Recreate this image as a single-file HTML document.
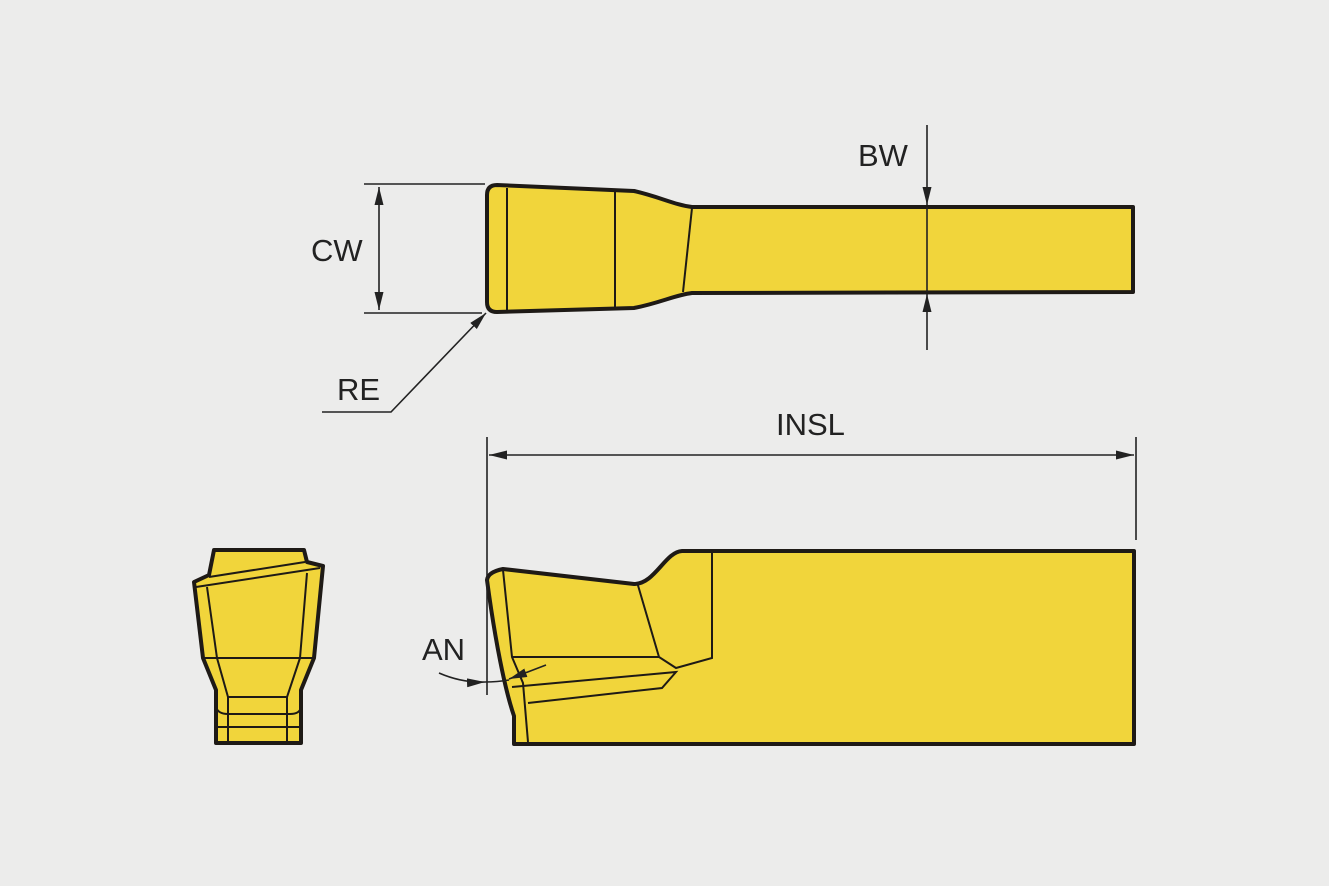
<!DOCTYPE html>
<html><head><meta charset="utf-8"><style>
html,body{margin:0;padding:0;background:#ececeb;}
svg{display:block}
text{font-family:"Liberation Sans",sans-serif;font-size:31px;fill:#222;}
</style></head><body>
<svg width="1329" height="886" viewBox="0 0 1329 886" xmlns="http://www.w3.org/2000/svg">
<defs>
<marker id="a" viewBox="0 0 10 10" refX="10" refY="5" markerWidth="18" markerHeight="9" markerUnits="userSpaceOnUse" orient="auto-start-reverse" preserveAspectRatio="none"><path d="M0,0L10,5L0,10z" fill="#222"/></marker>
</defs>
<rect width="1329" height="886" fill="#ececeb"/>
<g fill="#f1d53b" stroke="#1e1a16" stroke-width="4" stroke-linejoin="round">
<path d="M497,185 L634,191 C660,197 675,205 692,207 L1133,207 L1133,292 L692,293 C675,295 660,303 634,308 L497,312 Q487,312 487,302 L487,195 Q487,185 497,185 Z"/>
<path d="M503,569 L634,584 C655,584 665,552 682,551 L1134,551 L1134,744 L514,744 L514,716 C505,690 495,640 487,580 Q488,572 503,569 Z"/>
<path d="M214,550 L304,550 L307,562 L323,566 L314,658 L301,690 L301,743 L216,743 L216,690 L203,658 L194,582 L209,575 Z"/>
</g>
<g fill="none" stroke="#1e1a16" stroke-width="2">
<line x1="507" y1="188" x2="507" y2="310"/>
<line x1="615" y1="191" x2="615" y2="307"/>
<line x1="692" y1="208" x2="683" y2="292"/>
<polyline points="503,570 512,657 523,683 528,742"/>
<line x1="512" y1="657" x2="659" y2="657"/>
<polyline points="637,582 659,657 676,668 712,658 712,552"/>
<polyline points="512,687 676,672 662,688 528,703"/>
<line x1="196" y1="587" x2="320" y2="568"/>
<line x1="209" y1="577" x2="305" y2="562"/>
<polyline points="207,587 217,658 228,697 228,743"/>
<polyline points="307,573 300,658 287,697 287,743"/>
<line x1="203" y1="658" x2="314" y2="658"/>
<line x1="228" y1="697" x2="287" y2="697"/>
<path d="M216,707 Q218,714 228,714 L290,714 Q300,714 301,707"/>
<line x1="216" y1="727" x2="301" y2="727"/>
</g>
<g fill="none" stroke="#222" stroke-width="1.6">
<line x1="364" y1="184" x2="485" y2="184"/>
<line x1="364" y1="313" x2="482" y2="313"/>
<line x1="379" y1="187" x2="379" y2="310" marker-start="url(#a)" marker-end="url(#a)"/>
<polyline points="322,412 391,412 486,313" marker-end="url(#a)"/>
<line x1="927" y1="125" x2="927" y2="205" marker-end="url(#a)"/>
<line x1="927" y1="350" x2="927" y2="294" marker-end="url(#a)"/>
<line x1="927" y1="207" x2="927" y2="292"/>
<line x1="487" y1="437" x2="487" y2="695"/>
<line x1="1136" y1="437" x2="1136" y2="540"/>
<line x1="489" y1="455" x2="1134" y2="455" marker-start="url(#a)" marker-end="url(#a)"/>
<path d="M439,673 Q462,683 485,682" marker-end="url(#a)"/>
<path d="M546,665 Q528,672 509,679" marker-end="url(#a)"/>
<path d="M485,682 Q497,682 509,680"/>
</g>
<text x="311" y="261">CW</text>
<text x="337" y="400">RE</text>
<text x="858" y="166">BW</text>
<text x="776" y="435">INSL</text>
<text x="422" y="660">AN</text>
</svg>
</body></html>
